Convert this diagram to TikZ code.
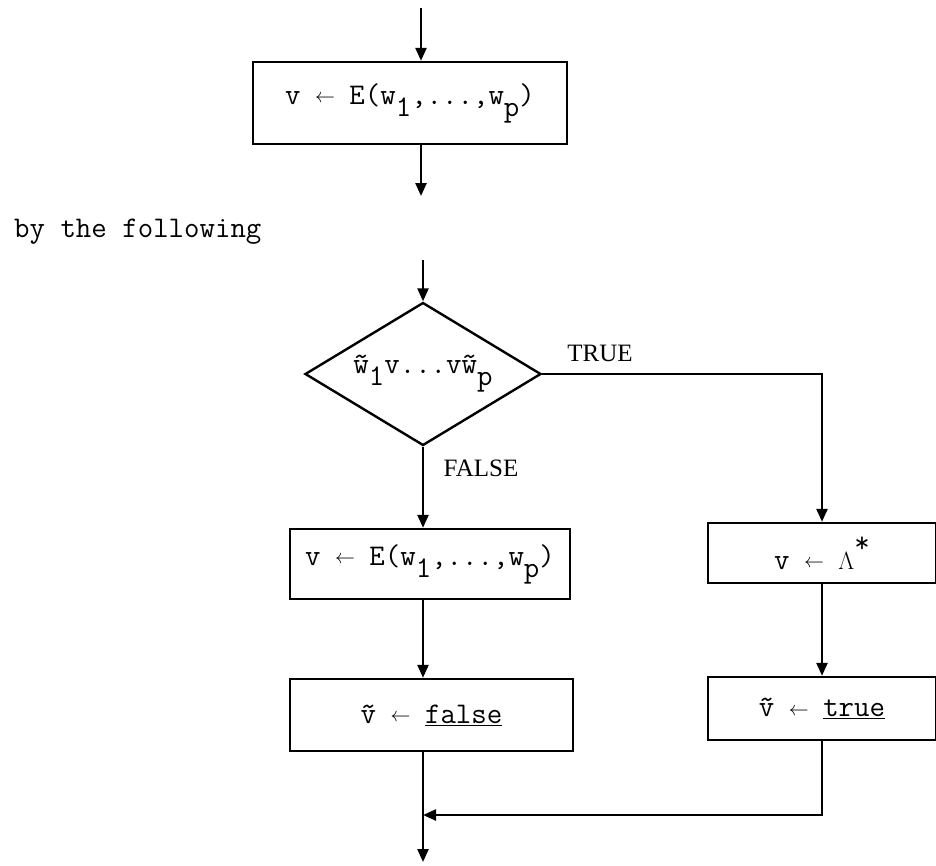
\documentclass[tikz,border=0pt]{standalone}
\usepackage{fontspec}
\usepackage{graphicx}
\usetikzlibrary{arrows.meta,shapes.geometric}
\newfontfamily\labelfont{Liberation Serif}
\newcommand\lo[1]{\raisebox{-0.4em}{#1}}
\newcommand\larr{\makebox[0.6em]{\raisebox{0.05em}{\scalebox{0.8}{$\leftarrow$}}}}
\tikzset{
  every path/.style={line width=2.4pt},
  arr/.style={-{Triangle[length=13pt,width=11pt]}},
  box/.style={draw, rectangle, inner sep=0pt, font=\fontsize{30}{32}\selectfont\ttfamily},
  lbl/.style={inner sep=0pt, font=\fontsize{25}{27}\selectfont\labelfont},
}
\begin{document}
\begin{tikzpicture}[x=1pt,y=-1pt]
\useasboundingbox (0,0) rectangle (936,865);
% top box
\node[box, minimum width=314pt, minimum height=82pt] (b1) at (410,103)
  {v \larr{} E(w\lo{1},...,w\lo{p})};
\coordinate (s1) at (421,8);
\coordinate (e1) at (421,196);
\draw[arr] (s1) -- (s1 |- b1.north);
\draw[arr] (b1.south -| e1) -- (e1);
% text
\node[anchor=west, inner sep=0pt, font=\fontsize{30}{32}\selectfont\ttfamily] (txt) at (13,232) {by the following};
% diamond
\node[draw, diamond, inner sep=0pt, aspect=1.65, minimum width=236pt, minimum height=143pt,
  font=\fontsize{30}{32}\selectfont\ttfamily] (d) at (423,374)
  {\~{w}\lo{1}v...v\~{w}\lo{p}};
\coordinate (s2) at (423,260);
\draw[arr] (s2) -- (d.north);
% TRUE branch
\node[lbl] (tl) at (600,353) {TRUE};
\node[box, minimum width=228pt, minimum height=60pt] (lam) at (822,553)
  {v \larr{} $\Lambda$\raisebox{0.55em}{*}};
\draw[arr] (d.east) -| (lam.north);
\node[box, minimum width=228pt, minimum height=63pt] (tb) at (822,708.5)
  {\~{v} \larr{} \underline{true}};
\draw[arr] (lam.south) -- (tb.north);
% FALSE branch
\node[lbl] (fl) at (481,468) {FALSE};
\node[box, minimum width=280pt, minimum height=70pt] (eb) at (430,564)
  {v \larr{} E(w\lo{1},...,w\lo{p})};
\draw[arr] (d.south) -- (d.south |- eb.north);
\node[box, minimum width=283pt, minimum height=72pt] (fb) at (431.5,715)
  {\~{v} \larr{} \underline{false}};
\draw[arr] (eb.south -| d.south) -- (fb.north -| d.south);
% join
\coordinate (j) at (423,815);
\coordinate (end) at (423,862);
\draw[arr] (fb.south -| end) -- (end);
\draw[arr] (tb.south) |- (j);
\end{tikzpicture}
\end{document}
